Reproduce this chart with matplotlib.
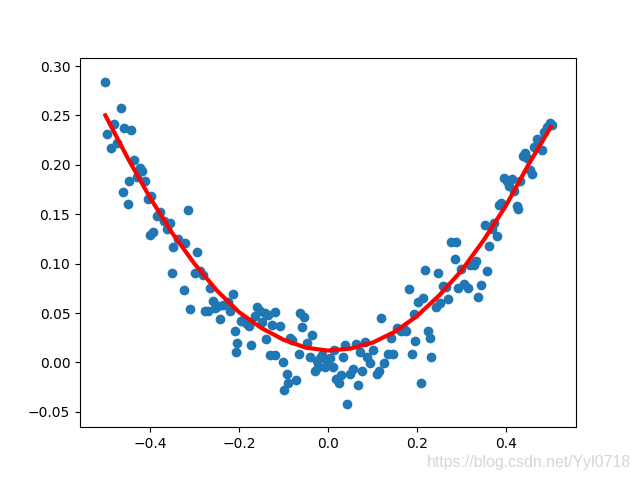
import matplotlib
matplotlib.use("Agg")
import matplotlib.pyplot as plt

x_pts = [-0.501, -0.497, -0.488, -0.481, -0.474, -0.465, -0.458, -0.443, -0.461, -0.449,
         -0.447, -0.436, -0.429, -0.422, -0.418, -0.411, -0.404, -0.398, -0.400, -0.393,
         -0.384, -0.378, -0.369, -0.362, -0.355, -0.348, -0.337, -0.321, -0.315, -0.324,
         -0.310, -0.351, -0.294, -0.299, -0.288, -0.281, -0.276, -0.270, -0.265, -0.258,
         -0.254, -0.247, -0.243, -0.236, -0.225, -0.220, -0.213, -0.209, -0.207, -0.204,
         -0.196, -0.191, -0.184, -0.178, -0.173, -0.164, -0.160, -0.153, -0.148, -0.142,
         -0.139, -0.135, -0.130, -0.126, -0.119, -0.119, -0.108, -0.101, -0.099, -0.092,
         -0.090, -0.085, -0.081, -0.072, -0.065, -0.063, -0.054, -0.058, -0.047, -0.040,
         -0.036, -0.029, -0.025, -0.022, -0.018, -0.013, -0.007, -0.002, 0.004, 0.011,
         0.013, 0.018, 0.025, 0.029, 0.034, 0.038, 0.043, 0.049, 0.056, 0.063,
         0.067, 0.072, 0.076, 0.083, 0.088, 0.094, 0.101, 0.110, 0.115, 0.119,
         0.126, 0.135, 0.142, 0.146, 0.155, 0.164, 0.171, 0.175, 0.182, 0.189,
         0.193, 0.196, 0.202, 0.209, 0.213, 0.218, 0.225, 0.229, 0.231, 0.243,
         0.247, 0.252, 0.258, 0.265, 0.270, 0.276, 0.285, 0.288, 0.292, 0.299,
         0.306, 0.315, 0.319, 0.328, 0.333, 0.337, 0.344, 0.353, 0.357, 0.362,
         0.369, 0.373, 0.380, 0.384, 0.389, 0.396, 0.402, 0.407, 0.413, 0.418,
         0.425, 0.427, 0.431, 0.438, 0.443, 0.447, 0.454, 0.458, 0.463, 0.470,
         0.474, 0.481, 0.485, 0.492, 0.499, 0.503]

y_pts = [0.284, 0.231, 0.217, 0.241, 0.222, 0.258, 0.237, 0.235, 0.172, 0.160,
         0.184, 0.205, 0.188, 0.197, 0.194, 0.184, 0.165, 0.168, 0.129, 0.132,
         0.148, 0.152, 0.143, 0.135, 0.141, 0.117, 0.125, 0.121, 0.154, 0.073,
         0.054, 0.091, 0.112, 0.091, 0.093, 0.089, 0.052, 0.052, 0.075, 0.062,
         0.055, 0.057, 0.044, 0.058, 0.061, 0.052, 0.069, 0.032, 0.011, 0.020,
         0.042, 0.043, 0.040, 0.037, 0.018, 0.047, 0.056, 0.052, 0.041, 0.050,
         0.024, 0.048, 0.008, 0.038, 0.008, 0.051, 0.037, 0.000, -0.028, -0.012,
         -0.021, 0.025, 0.023, -0.018, 0.009, 0.050, 0.046, 0.036, 0.020, 0.006,
         0.028, -0.009, 0.001, -0.005, 0.005, 0.008, -0.005, 0.001, 0.005, -0.005,
         0.013, -0.017, -0.021, -0.013, 0.006, 0.018, -0.042, -0.012, -0.007, 0.019,
         -0.023, 0.011, -0.009, 0.021, 0.006, -0.001, 0.013, -0.012, -0.009, 0.045,
         -0.001, 0.009, 0.025, 0.009, 0.035, 0.032, 0.034, 0.032, 0.074, 0.009,
         0.049, 0.022, 0.061, -0.021, 0.065, 0.094, 0.032, 0.025, 0.006, 0.056,
         0.091, 0.060, 0.077, 0.076, 0.064, 0.122, 0.105, 0.122, 0.075, 0.095,
         0.079, 0.075, 0.099, 0.099, 0.103, 0.066, 0.078, 0.139, 0.093, 0.118,
         0.135, 0.141, 0.128, 0.159, 0.161, 0.187, 0.184, 0.179, 0.186, 0.174,
         0.158, 0.155, 0.184, 0.209, 0.212, 0.207, 0.195, 0.191, 0.218, 0.226,
         0.225, 0.215, 0.233, 0.238, 0.242, 0.240]

x_fit = [-0.5, -0.45, -0.4, -0.35, -0.3, -0.25, -0.2, -0.15, -0.1, -0.05, 0.0,
         0.05, 0.1, 0.15, 0.2, 0.25, 0.3, 0.35, 0.4, 0.45, 0.5]
y_fit = [0.250, 0.207, 0.167, 0.131, 0.100, 0.073, 0.051, 0.035, 0.023, 0.015, 0.012,
         0.014, 0.020, 0.031, 0.047, 0.068, 0.093, 0.124, 0.159, 0.200, 0.238]

fig = plt.figure(figsize=(6.4, 4.8), dpi=100)
ax = fig.add_subplot(111)
ax.scatter(x_pts, y_pts, color='#1f77b4')
ax.plot(x_fit, y_fit, color='red', linewidth=3)
ax.set_xlim(-0.557, 0.557)
ax.set_ylim(-0.0655, 0.3085)
fig.text(0.986, 0.027, "https://blog.csdn.net/Yyl0718", ha='right', va='baseline',
         color='#cccccc', alpha=0.8, fontsize=11.4, family=['Liberation Sans', 'DejaVu Sans'])
fig.savefig("out.png", dpi=100)
